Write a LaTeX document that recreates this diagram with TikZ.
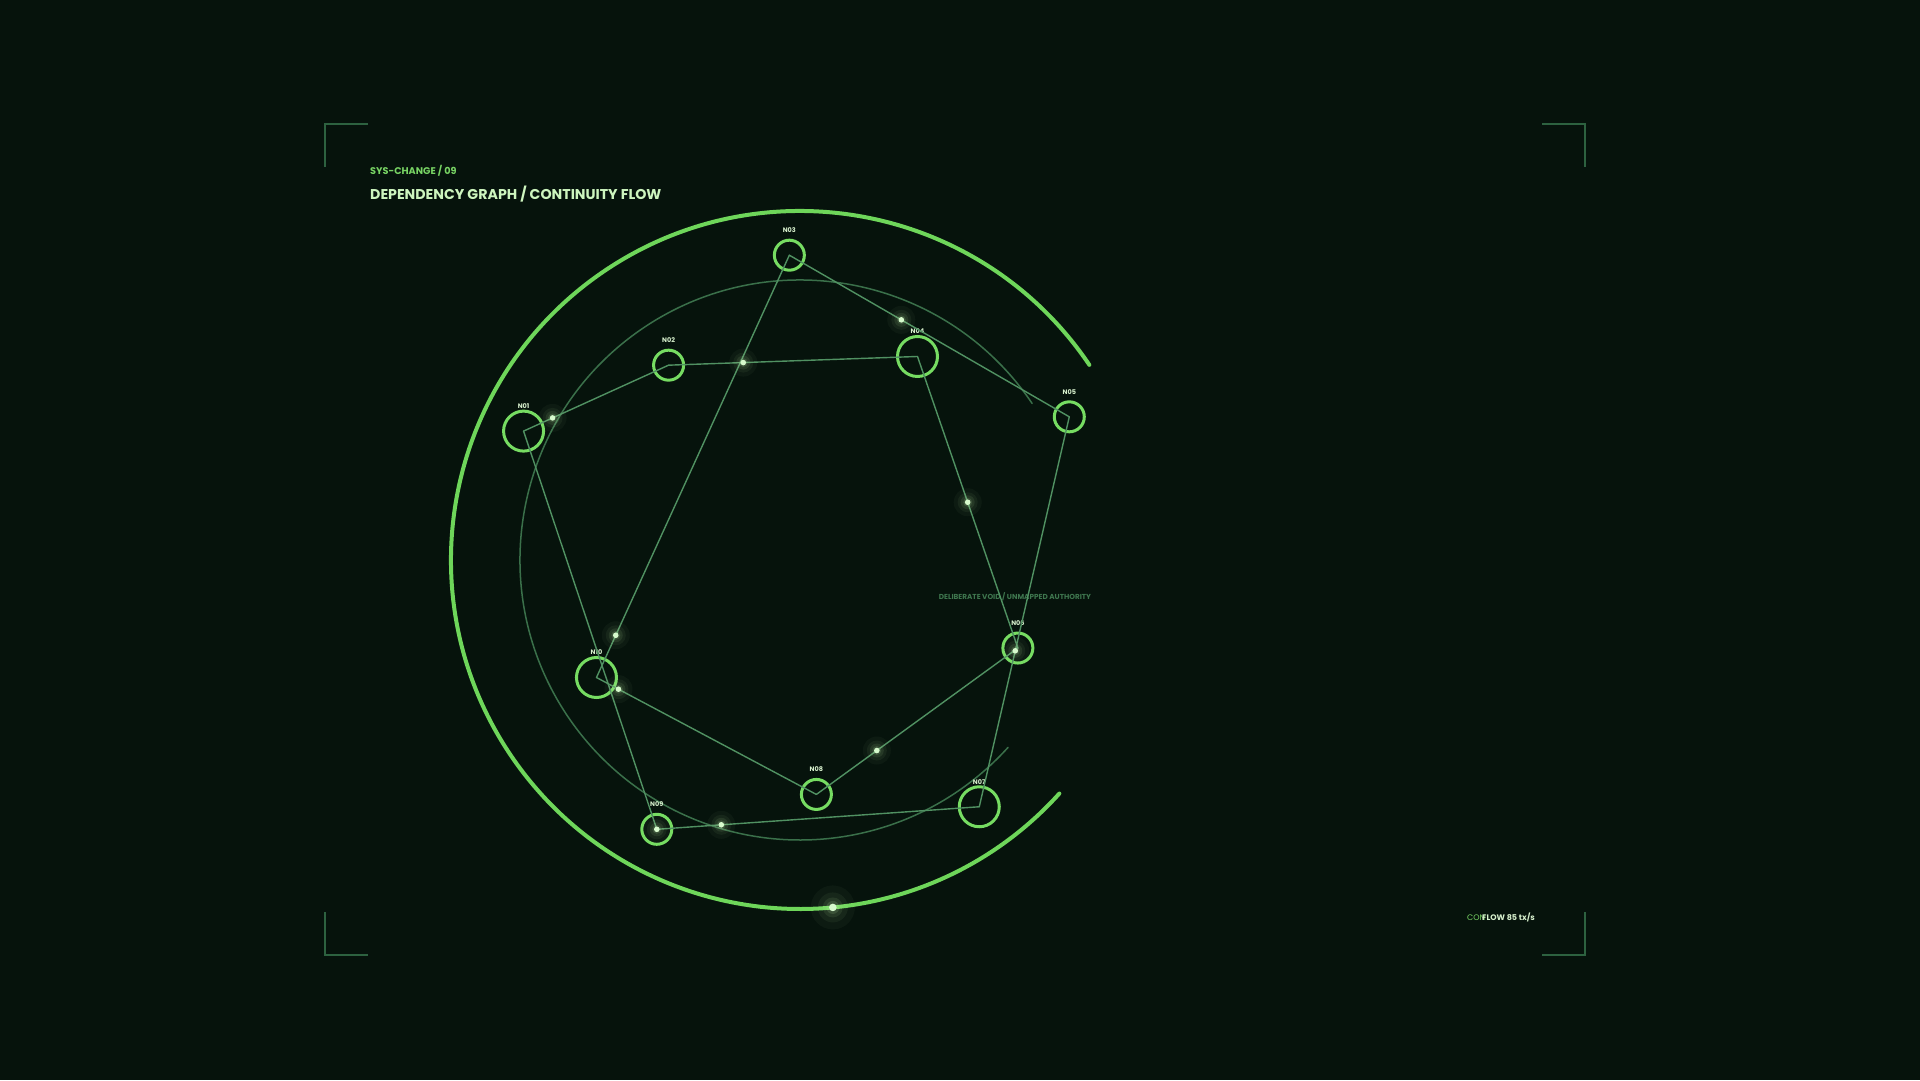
\documentclass[tikz,border=0pt]{standalone}
\usepackage{fontspec}
\setmainfont{Poppins}
\usepackage{tikz}
\usetikzlibrary{positioning}

\definecolor{bgc}{RGB}{6,19,12}
\definecolor{rimc}{RGB}{110,214,90}
\definecolor{ringc}{RGB}{118,220,98}
\definecolor{edgec}{RGB}{80,145,98}
\definecolor{orbitc}{RGB}{58,112,74}
\definecolor{dotc}{RGB}{215,250,205}
\definecolor{glowc}{RGB}{190,240,170}
\definecolor{tagc}{RGB}{215,240,205}
\definecolor{titlec}{RGB}{205,245,190}
\definecolor{subc}{RGB}{120,212,100}
\definecolor{cornerc}{RGB}{45,98,64}
\definecolor{voidc}{RGB}{62,118,78}

\begin{document}
\begin{tikzpicture}[x=1pt,y=1pt,line cap=round]
    \tikzstyle{vertex}=[circle,draw=ringc,line width=3pt,inner sep=0pt,minimum size=30pt]
    \tikzstyle{bigvertex}=[vertex,minimum size=40pt]
    \tikzstyle{edge}=[draw=edgec,line width=1.4pt]
    \tikzstyle{tag}=[text=tagc,inner sep=0pt,font=\bfseries\fontsize{6.5}{7}\selectfont]
    \tikzstyle{corner}=[draw=cornerc,line width=2.5pt,line cap=butt]

    \fill[bgc] (-800,-520) rectangle (1120,560);
    \useasboundingbox (-800,-520) rectangle (1120,560);

    % frame corners
    \draw[corner] (-475,393) -- (-475,436) -- (-432,436);
    \draw[corner] (742,436) -- (785,436) -- (785,393);
    \draw[corner] (-475,-352) -- (-475,-395) -- (-432,-395);
    \draw[corner] (742,-395) -- (785,-395) -- (785,-352);

    % headings
    \node[anchor=base west,inner sep=0pt,text=subc,font=\bfseries\fontsize{9.7}{11}\selectfont]
        (kicker) at (-430,385) {SYS-CHANGE / 09};
    \node[anchor=base west,inner sep=0pt,text=titlec,font=\bfseries\fontsize{14.2}{16}\selectfont]
        (title) at (-430,361) {DEPENDENCY GRAPH / CONTINUITY FLOW};

    % open rings
    \draw[orbitc,line width=1.5pt] (34:280) arc[start angle=34,end angle=318,radius=280];
    \draw[rimc,line width=4pt] (34:349) arc[start angle=34,end angle=318,radius=349];
    \coordinate (pulse) at (275.4:349);

    \node[voidc,inner sep=0pt,font=\bfseries\fontsize{7.25}{8}\selectfont] (void) at (215,-37)
        {DELIBERATE VOID / UNMAPPED AUTHORITY};

    \node[bigvertex] (n1)  at (155:305)  {};
    \node[vertex]    (n2)  at (124:235)  {};
    \node[vertex]    (n3)  at (92:305)   {};
    \node[bigvertex] (n4)  at (60:235)   {};
    \node[vertex]    (n5)  at (28:305)   {};
    \node[vertex]    (n6)  at (-22:235)  {};
    \node[bigvertex] (n7)  at (-54:305)  {};
    \node[vertex]    (n8)  at (-86:235)  {};
    \node[vertex]    (n9)  at (-118:305) {};
    \node[bigvertex] (n10) at (-150:235) {};

    \foreach \i/\l in {1/N01,2/N02,3/N03,4/N04,5/N05,6/N06,7/N07,8/N08,9/N09,10/N10}
        \node[tag] (t\i) at ([yshift=25pt]n\i.center) {\l};

    \foreach \a/\b/\t in {1/2/0.2,2/4/0.3,3/5/0.4,4/6/0.5,5/7/0.6,6/8/0.7,7/9/0.8,8/10/0.9,9/1/0.0,10/3/0.1} {
        \draw[edge] (n\a.center) -- coordinate[pos=\t] (f\a) (n\b.center);
    }

    % flow dots
    \foreach \a in {1,...,10} {
        \fill[glowc,opacity=.04] (f\a) circle (14);
        \fill[glowc,opacity=.06] (f\a) circle (10);
        \fill[glowc,opacity=.09] (f\a) circle (7);
        \fill[glowc,opacity=.14] (f\a) circle (4.5);
        \fill[dotc] (f\a) circle (2.8);
    }
    \fill[glowc,opacity=.04] (pulse) circle (22);
    \fill[glowc,opacity=.06] (pulse) circle (15);
    \fill[glowc,opacity=.09] (pulse) circle (10);
    \fill[glowc,opacity=.14] (pulse) circle (6.5);
    \fill[dotc] (pulse) circle (3.8);

    % readout
    \node[anchor=base west,inner sep=0pt,text=subc,font=\fontsize{8}{9}\selectfont]
        (con) at (667,-360) {CON};
    \node[anchor=base west,inner sep=0pt,text=tagc,font=\bfseries\fontsize{8}{9}\selectfont]
        (flow) at (682,-360) {FLOW 85 tx/s};
\end{tikzpicture}
\end{document}
